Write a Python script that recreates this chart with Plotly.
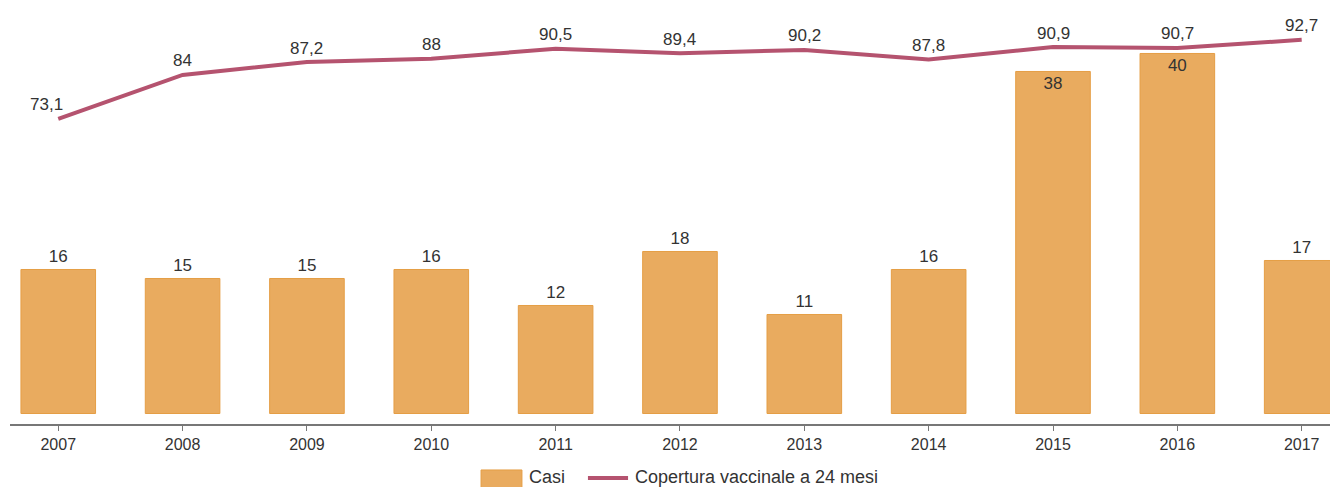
import plotly.graph_objects as go

anni = ["2007", "2008", "2009", "2010", "2011", "2012", "2013", "2014", "2015", "2016", "2017"]
casi = [16, 15, 15, 16, 12, 18, 11, 16, 38, 40, 17]
copertura = [73.1, 84, 87.2, 88, 90.5, 89.4, 90.2, 87.8, 90.9, 90.7, 92.7]

nome_casi = "Casi"
nome_cop = "Copertura vaccinale a 24 mesi"

col_barre = "#E9AB5F"
col_bordo = "#E59E45"
col_linea = "#B5536F"

# le barre alte hanno l'etichetta dentro per non toccare la linea
pos_casi = ["inside" if v > 30 else "outside" for v in casi]

font_lab = dict(family="Liberation Sans, Arial, sans-serif", size=17, color="#333333")

fig = go.Figure()
fig.add_trace(go.Bar(
    x=anni, y=casi, name=nome_casi,
    marker=dict(color=col_barre, line=dict(color=col_bordo, width=1)),
    width=0.6,
    text=[str(v) for v in casi], textposition=pos_casi,
    insidetextanchor="end", textfont=font_lab, cliponaxis=False,
))
fig.add_trace(go.Scatter(
    x=anni, y=copertura, name=nome_cop, yaxis="y2",
    mode="lines", line=dict(color=col_linea, width=4),
))

# etichette della linea (virgola decimale), un po' sopra i punti
# sull'asse a categorie l'annotazione vuole l'indice della categoria
for i, v in enumerate(copertura):
    fig.add_annotation(
        x=i, y=v, xref="x", yref="y2", text=("%g" % v).replace(".", ","),
        showarrow=False, yanchor="middle", yshift=14,
        xshift=-12 if i == 0 else 0, font=font_lab,
    )

# legenda disegnata a mano (riquadro grande come nell'originale)
fig.add_shape(type="rect", xref="paper", yref="paper",
              x0=0.3547, x1=0.3855, y0=-0.111, y1=-0.17,
              fillcolor=col_barre, line=dict(color=col_bordo, width=1))
fig.add_shape(type="line", xref="paper", yref="paper",
              x0=0.4352, x1=0.4654, y0=-0.1305, y1=-0.1305,
              line=dict(color=col_linea, width=4))
fig.add_annotation(xref="paper", yref="paper", x=0.3893, y=-0.128,
                   xanchor="left", yanchor="middle", showarrow=False,
                   text=nome_casi, font=dict(size=18, color="#333333"))
fig.add_annotation(xref="paper", yref="paper", x=0.4691, y=-0.128,
                   xanchor="left", yanchor="middle", showarrow=False,
                   text=nome_cop, font=dict(size=18, color="#333333"))

# la pagina ha 8px di margine del body: la figura e' piu' piccola di 8px
fig.update_layout(
    width=1330, height=479,
    margin=dict(l=2, r=0, t=2, b=63),
    plot_bgcolor="white", paper_bgcolor="white",
    font=dict(family="Liberation Sans, Arial, sans-serif", size=16, color="#333333"),
    showlegend=False,
    xaxis=dict(type="category", range=[-0.388, 10.292], showgrid=False,
               showline=True, linecolor="#777777", linewidth=1.5,
               ticks="outside", ticklen=5, tickcolor="#777777",
               tickfont=dict(size=16, color="#333333")),
    yaxis=dict(range=[-1.167, 44.83], visible=False, showgrid=False),
    yaxis2=dict(range=[-2.61, 100.1], overlaying="y", visible=False, showgrid=False),
)

fig.write_html("out.html")
